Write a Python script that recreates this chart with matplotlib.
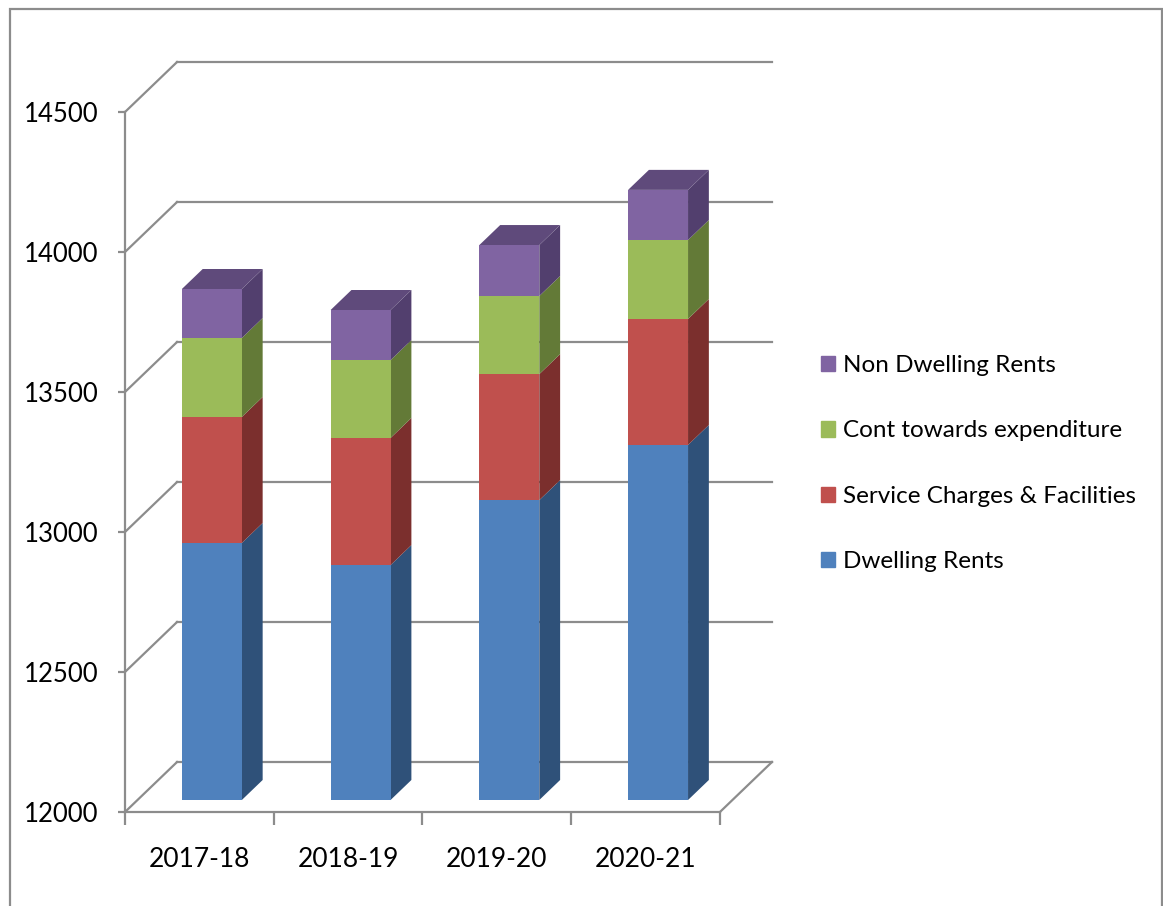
import matplotlib
matplotlib.use("Agg")
import matplotlib.pyplot as plt
from matplotlib.patches import Polygon, Patch, Rectangle
import numpy as np

plt.rcParams['font.family'] = ['Lato', 'DejaVu Sans']

years = ['2017-18', '2018-19', '2019-20', '2020-21']
series = ['Dwelling Rents', 'Service Charges & Facilities',
          'Cont towards expenditure', 'Non Dwelling Rents']
dwelling = [12918, 12839, 13071, 13268]
service = [450, 454, 450, 450]
cont = [282, 278, 279, 282]
non_dwelling = [175, 179, 182, 179]
y_ticks = [12000, 12500, 13000, 13500, 14000, 14500]

front_cols = ['#4F81BD', '#C0504D', '#9BBB59', '#8064A2']
side_cols = ['#2F5179', '#7B2F2D', '#637A37', '#523F6E']
top_col = '#5F4A7B'
grid_col = '#8C8C8C'

# oblique depth offset in data units, and where the bars sit in that depth
DX, DY = 0.35, 178.6
F1, F2 = 0.24, 0.64
W = 0.403
base = 12000

fig = plt.figure(figsize=(11.63, 9.06), dpi=100)
ax = fig.add_axes([125 / 1163, 94 / 906, 647 / 1163, 750 / 906])
ax.set_xlim(-0.5, 3.5 + DX)
ax.set_ylim(base, 14500 + DY)

# walls: left wall diagonals + back wall lines
for v in y_ticks:
    ax.plot([-0.5, -0.5 + DX], [v, v + DY], color=grid_col, lw=1.6, zorder=1, clip_on=False)
    ax.plot([-0.5 + DX, 3.5 + DX], [v + DY, v + DY], color=grid_col, lw=1.6, zorder=1,
            clip_on=False)
# floor right edge
ax.plot([3.5, 3.5 + DX], [base, base + DY], color=grid_col, lw=1.6, zorder=1, clip_on=False)

# stacked bars with fake 3D faces
stack = [np.array(dwelling) - base, np.array(service), np.array(cont), np.array(non_dwelling)]
bottoms = np.full(len(years), float(base))
x = np.arange(len(years))
for k, vals in enumerate(stack):
    tops = bottoms + vals
    x0 = x + F1 * DX - W / 2
    ax.bar(x0, vals, width=W, bottom=bottoms + F1 * DY, align='edge',
           color=front_cols[k], zorder=3)
    ddx, ddy = (F2 - F1) * DX, (F2 - F1) * DY
    for i in range(len(years)):
        x1 = x0[i] + W
        b, t = bottoms[i], tops[i]
        side = Polygon([(x1, b + F1 * DY), (x1 + ddx, b + F2 * DY),
                        (x1 + ddx, t + F2 * DY), (x1, t + F1 * DY)],
                       closed=True, color=side_cols[k], zorder=2.5, lw=0)
        ax.add_patch(side)
        if k == len(stack) - 1:
            top = Polygon([(x0[i], t + F1 * DY), (x1, t + F1 * DY),
                           (x1 + ddx, t + F2 * DY), (x0[i] + ddx, t + F2 * DY)],
                          closed=True, color=top_col, zorder=2.5, lw=0)
            ax.add_patch(top)
    bottoms = tops

# axes
for s in ['top', 'right']:
    ax.spines[s].set_visible(False)
ax.spines['left'].set_bounds(base, 14500)
ax.spines['bottom'].set_bounds(-0.5, 3.5)
for s in ['left', 'bottom']:
    ax.spines[s].set_color(grid_col)
    ax.spines[s].set_linewidth(1.6)
ax.set_yticks(y_ticks)
ax.set_yticklabels([str(v) for v in y_ticks])
ax.tick_params(axis='y', length=5, width=1.6, color=grid_col, pad=14, labelsize=18.5)
ax.set_xticks(x)
ax.set_xticklabels(years)
ax.set_xticks(np.arange(-0.5, 4, 1.0), minor=True)
ax.tick_params(axis='x', which='major', length=0, pad=25, labelsize=19)
ax.tick_params(axis='x', which='minor', length=9, width=1.6, color=grid_col)

handles = [Patch(color=front_cols[k], label=series[k]) for k in range(3, -1, -1)]
fig.legend(handles=handles, loc='upper left', bbox_to_anchor=(799 / 1163, 1 - 333 / 906),
           frameon=False, fontsize=17.5, handlelength=0.6, handleheight=0.6,
           handletextpad=0.3, labelspacing=1.83)

fig.add_artist(Rectangle((10 / 1163, -0.02), 1152 / 1163, 1.02 - 9 / 906,
                         transform=fig.transFigure, fill=False,
                         edgecolor='#8C8C8C', lw=1.6))

fig.savefig('out.png', dpi=100)
